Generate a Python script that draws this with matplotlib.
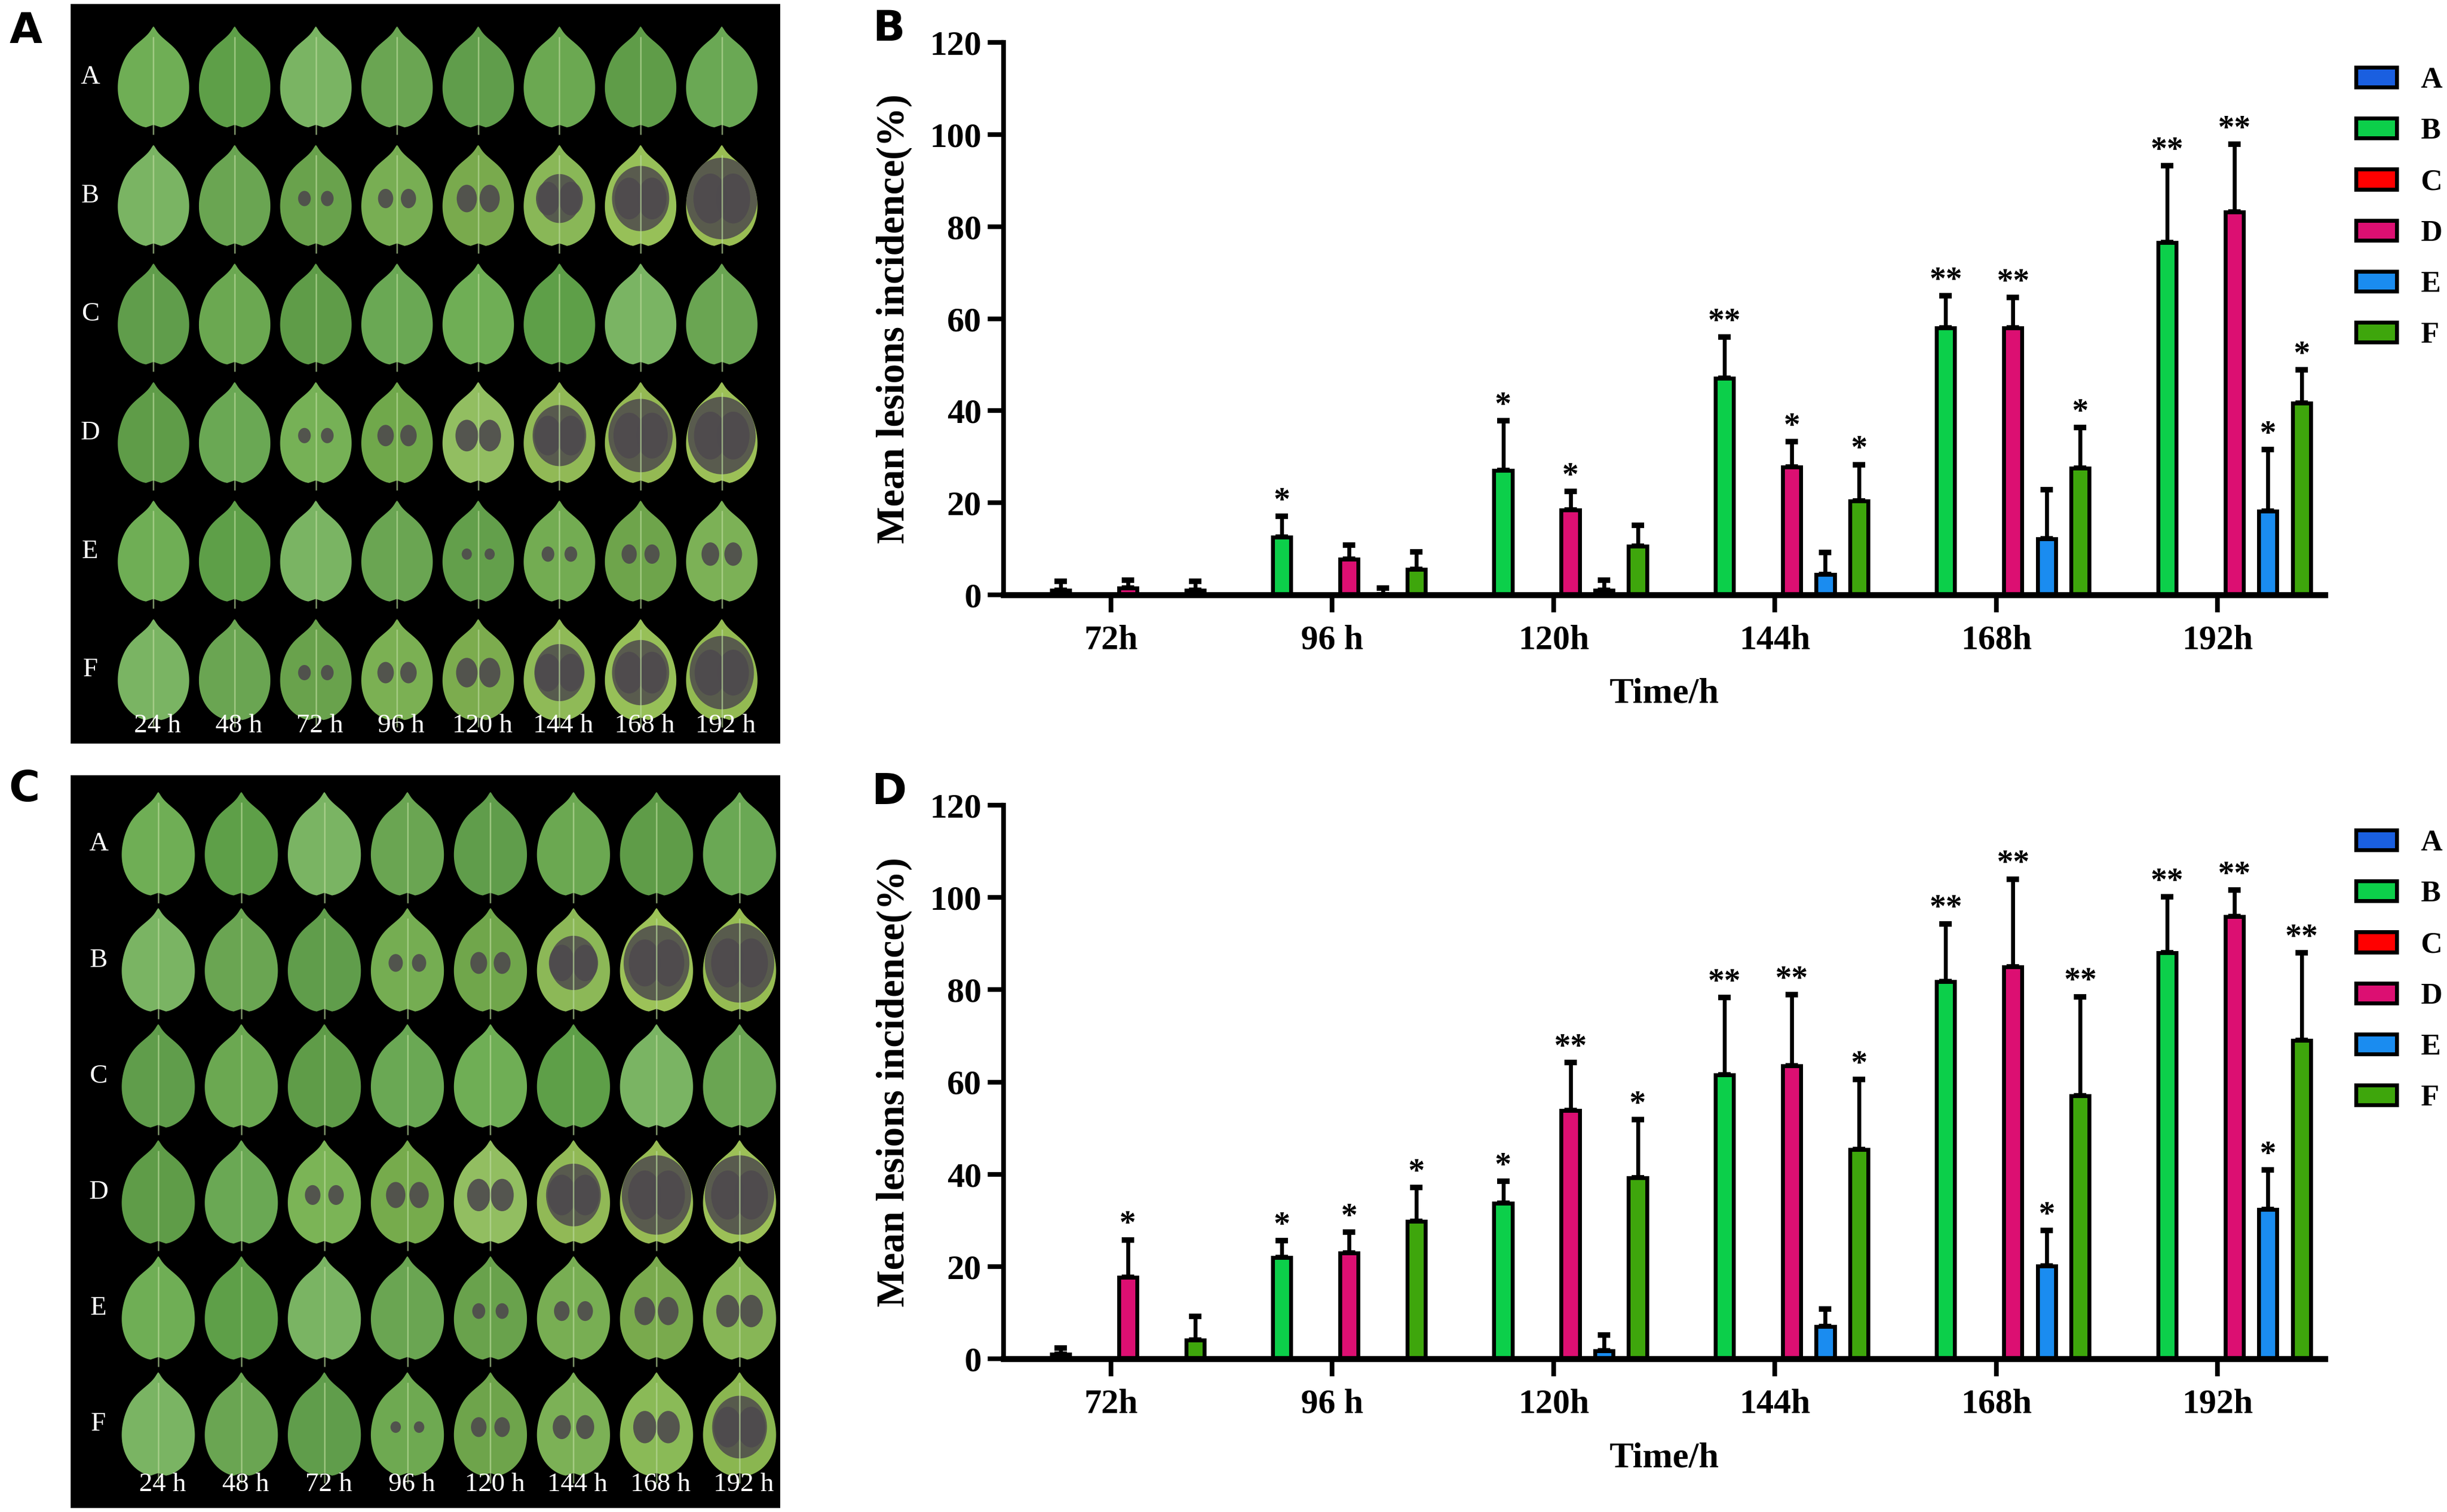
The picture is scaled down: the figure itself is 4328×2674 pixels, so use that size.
import numpy as np
import matplotlib
matplotlib.use("Agg")
import matplotlib.pyplot as plt
from matplotlib.patches import Patch, PathPatch, Ellipse
from matplotlib.path import Path

plt.rcParams["font.family"] = ["Liberation Serif", "DejaVu Serif"]

# ---- chart data ----
groups = ["A", "B", "C", "D", "E", "F"]
colors = ["#1a5fe0", "#0ccf4a", "#ff0000", "#dc0f72", "#1a8cf0", "#3ea60c"]
times = ["72h", "96 h", "120h", "144h", "168h", "192h"]

# panel B (means, upper SD)
b_A = [0, 0, 0, 0, 0, 0]
b_B = [1.0, 12.5, 27.0, 47.1, 58.0, 76.5]
b_C = [0, 0, 0, 0, 0, 0]
b_D = [1.5, 7.7, 18.4, 27.7, 58.0, 83.2]
b_E = [0, 0, 1.0, 4.4, 12.1, 18.2]
b_F = [1.0, 5.5, 10.6, 20.4, 27.5, 41.6]
b_sd_A = [0, 0, 0, 0, 0, 0]
b_sd_B = [1.9, 4.6, 10.8, 8.9, 7.0, 16.7]
b_sd_C = [0, 0, 0, 0, 0, 0]
b_sd_D = [1.7, 3.1, 4.1, 5.6, 6.6, 14.7]
b_sd_E = [0, 1.5, 2.2, 4.8, 10.8, 13.4]
b_sd_F = [2.0, 3.8, 4.5, 7.9, 8.8, 7.3]
b_sig_B = ["", "*", "*", "**", "**", "**"]
b_sig_D = ["", "", "*", "*", "**", "**"]
b_sig_E = ["", "", "", "", "", "*"]
b_sig_F = ["", "", "", "*", "*", "*"]

# panel D (means, upper SD)
d_A = [0, 0, 0, 0, 0, 0]
d_B = [1.0, 22.0, 33.7, 61.5, 81.8, 88.0]
d_C = [0, 0, 0, 0, 0, 0]
d_D = [17.6, 22.9, 53.8, 63.5, 84.9, 95.8]
d_E = [0, 0, 1.7, 7.0, 20.1, 32.3]
d_F = [4.1, 29.8, 39.2, 45.4, 57.0, 69.0]
d_sd_A = [0, 0, 0, 0, 0, 0]
d_sd_B = [1.3, 3.6, 4.8, 16.8, 12.5, 12.1]
d_sd_C = [0, 0, 0, 0, 0, 0]
d_sd_D = [8.2, 4.5, 10.4, 15.4, 19.1, 5.8]
d_sd_E = [0, 0, 3.4, 3.8, 7.7, 8.6]
d_sd_F = [5.1, 7.3, 12.6, 15.1, 21.5, 19.0]
d_sig_B = ["", "*", "*", "**", "**", "**"]
d_sig_D = ["*", "*", "**", "**", "**", "**"]
d_sig_E = ["", "", "", "", "*", "*"]
d_sig_F = ["", "*", "*", "*", "**", "**"]

# ---- leaf photo panels: visual lesion severity per row (A..F) and time ----
photo_times = ["24 h", "48 h", "72 h", "96 h", "120 h", "144 h", "168 h", "192 h"]
sev_A = [
    [0, 0, 0, 0, 0, 0, 0, 0],
    [0, 0, 0.15, 0.25, 0.45, 0.6, 0.8, 1.0],
    [0, 0, 0, 0, 0, 0, 0, 0],
    [0, 0, 0.15, 0.3, 0.55, 0.75, 0.9, 0.95],
    [0, 0, 0, 0, 0.05, 0.15, 0.25, 0.35],
    [0, 0, 0.15, 0.3, 0.5, 0.7, 0.8, 0.9],
]
sev_C = [
    [0, 0, 0, 0, 0, 0, 0, 0],
    [0, 0, 0, 0.2, 0.3, 0.65, 0.9, 0.95],
    [0, 0, 0, 0, 0, 0, 0, 0],
    [0, 0, 0.25, 0.4, 0.55, 0.75, 0.95, 0.95],
    [0, 0, 0, 0, 0.15, 0.25, 0.45, 0.55],
    [0, 0, 0, 0.05, 0.25, 0.35, 0.55, 0.75],
]
leaf_greens = ["#6fae55", "#5e9f48", "#7ab463", "#6aa552",
               "#609d4b", "#6ba851", "#5f9c48", "#6aa854"]

W, H, DPI = 4328, 2674, 200
fig = plt.figure(figsize=(W / DPI, H / DPI), dpi=DPI)


def px_rect(x0, y0, x1, y1):
    return [x0 / W, 1 - y1 / H, (x1 - x0) / W, (y1 - y0) / H]


def leaf_outline(n=120):
    # ovate leaf with rounded shoulders, a small drip tip and a notched base
    y = np.linspace(-1, 1, n)
    w = (1 + y) ** 0.5 * (1 - y) ** 0.75
    w *= 1 - 0.65 * np.exp(-((1 - y) / 0.3) ** 2)
    w = w / w.max()
    y_out = y + 0.07 * np.exp(-(w / 0.12) ** 2) * (y < 0)
    right = np.column_stack([w, y_out])
    left = right[::-1] * [-1, 1]
    return np.vstack([right, left])


def mix(c1, c2, t):
    a = np.array(matplotlib.colors.to_rgb(c1))
    b = np.array(matplotlib.colors.to_rgb(c2))
    return tuple(a * (1 - t) + b * t)


def photo_panel(rect, sev, xlim, ylim, hw, hh, lab_x, time_y):
    ax = fig.add_axes(rect)
    ax.set_facecolor("black")
    ax.set_xlim(*xlim)
    ax.set_ylim(*ylim)
    ax.set_xticks([])
    ax.set_yticks([])
    for s in ax.spines.values():
        s.set_visible(False)
    base = leaf_outline()
    for r, row in enumerate(sev):
        ax.text(lab_x, r, groups[r], color="white", fontsize=17,
                ha="center", va="center")
        for c, s in enumerate(row):
            green = leaf_greens[(c + 2 * r) % len(leaf_greens)]
            col = mix(green, "#c9d65c", 0.55 * s)
            pts = np.column_stack([c + hw * base[:, 0], r - hh * base[:, 1]])
            patch = PathPatch(Path(pts, closed=True), facecolor=col,
                              edgecolor="none")
            ax.add_patch(patch)
            ax.plot([c, c], [r + hh * 1.12, r - hh * 0.8], color="#b9d99a",
                    lw=0.9, alpha=0.7, solid_capstyle="butt")
            if s > 0:
                dark = "#4e4a4d"
                for sx in (-1, 1):
                    e = Ellipse((c + sx * hw * 0.32, r + hh * 0.05),
                                hw * (0.25 + 0.7 * s), hh * (0.18 + 0.8 * s),
                                facecolor=dark, edgecolor="none", alpha=0.9)
                    ax.add_patch(e)
                    e.set_clip_path(patch)
                if s >= 0.6:
                    e = Ellipse((c, r + hh * 0.05), hw * 2.0 * s,
                                hh * 1.6 * s, facecolor=dark,
                                edgecolor="none", alpha=0.85)
                    ax.add_patch(e)
                    e.set_clip_path(patch)
    for c, t in enumerate(photo_times):
        ax.text(c + 0.05, time_y, t, color="white", fontsize=17,
                ha="center", va="center")
    return ax


photo_panel(px_rect(125, 7, 1380, 1315), sev_A, (-1.02, 7.72), (5.62, -0.62),
            0.44, 0.43, -0.78, 5.47)
photo_panel(px_rect(125, 1371, 1380, 2667), sev_C, (-1.055, 7.49),
            (5.72, -0.595), 0.44, 0.45, -0.72, 5.52)


def bar_panel(rect, means, sds, sigs, legend_top):
    ax = fig.add_axes(rect)
    x = np.arange(len(times))
    step, width = 0.152, 0.082
    for i, g in enumerate(groups):
        xs = x + (i - 2.5) * step
        m = np.array(means[i], dtype=float)
        sd = np.array(sds[i], dtype=float)
        ax.bar(xs, m, width, color=colors[i], edgecolor="black",
               linewidth=2.5, label=g, zorder=2)
        keep = sd > 0
        if keep.any():
            ax.errorbar(xs[keep], m[keep],
                        yerr=[np.zeros(keep.sum()), sd[keep]], fmt="none",
                        ecolor="black", elinewidth=2.5, capsize=4,
                        capthick=3.5, zorder=1)
        if g in sigs:
            for xi, mi, si, lab in zip(xs, m, sd, sigs[g]):
                if lab:
                    ax.text(xi, mi + si + 1.5, lab, ha="center",
                            va="baseline", fontsize=21, fontweight="bold")
    ax.set_xlim(-0.485, 5.485)
    ax.set_ylim(0, 120)
    ax.set_yticks(np.arange(0, 121, 20))
    ax.set_xticks(x)
    ax.set_xticklabels(times)
    for s in ("top", "right"):
        ax.spines[s].set_visible(False)
    ax.spines["left"].set_linewidth(3)
    ax.spines["bottom"].set_linewidth(3.8)
    ax.tick_params(axis="x", width=3, length=11, pad=8, labelsize=22)
    ax.tick_params(axis="y", width=3, length=10, pad=4, labelsize=22)
    for lab in ax.get_xticklabels() + ax.get_yticklabels():
        lab.set_fontweight("bold")
    ax.set_xlabel("Time/h", fontsize=23, fontweight="bold")
    ax.xaxis.set_label_coords(0.5, -0.18)
    ax.xaxis.label.set_va("center")
    ax.set_ylabel("Mean lesions incidence(%)", fontsize=25,
                  fontweight="bold")
    ax.yaxis.set_label_coords(-0.083, 0.5)
    ax.yaxis.label.set_va("center")
    handles = [Patch(facecolor=c, edgecolor="black", linewidth=2.5, label=g)
               for g, c in zip(groups, colors)]
    ax.legend(handles=handles, loc="upper left",
              bbox_to_anchor=(4167 / W, 1 - legend_top / H),
              bbox_transform=fig.transFigure, frameon=False,
              prop=dict(family="Liberation Serif", weight="bold", size=19),
              handlelength=1.36, handleheight=0.65, labelspacing=0.8,
              handletextpad=0.8, borderpad=0, borderaxespad=0)
    return ax


bar_panel(px_rect(1775, 75, 4112, 1052),
          [b_A, b_B, b_C, b_D, b_E, b_F],
          [b_sd_A, b_sd_B, b_sd_C, b_sd_D, b_sd_E, b_sd_F],
          {"B": b_sig_B, "D": b_sig_D, "E": b_sig_E, "F": b_sig_F}, 118)
bar_panel(px_rect(1775, 1424, 4112, 2403),
          [d_A, d_B, d_C, d_D, d_E, d_F],
          [d_sd_A, d_sd_B, d_sd_C, d_sd_D, d_sd_E, d_sd_F],
          {"B": d_sig_B, "D": d_sig_D, "E": d_sig_E, "F": d_sig_F}, 1467)

# panel letters
for lab, px, py in [("A", 46, 56), ("B", 1572, 51), ("C", 43, 1397),
                    ("D", 1572, 1402)]:
    fig.text(px / W, 1 - py / H, lab, fontsize=27, fontweight="bold",
             family="DejaVu Sans", ha="center", va="center")

fig.savefig("out.png", dpi=DPI)
